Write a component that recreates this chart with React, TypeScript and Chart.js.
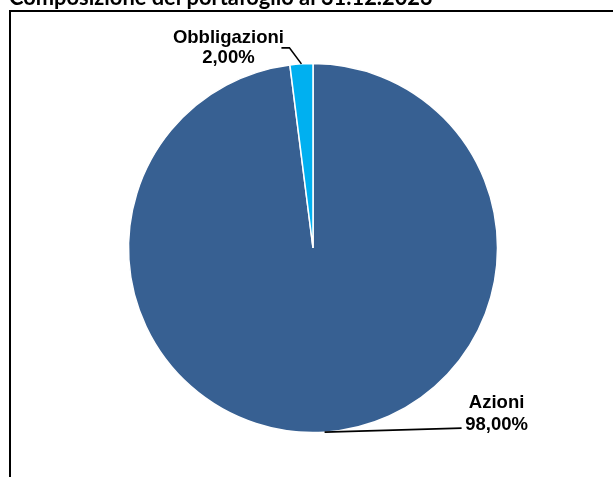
import React, { useEffect, useRef } from "react";
import { Chart, registerables } from "chart.js";

Chart.register(...registerables);

const categories = ["Azioni", "Obbligazioni"];
const values = [98, 2];
const valueLabels = ["98,00%", "2,00%"];
const sliceColors = ["#376092", "#00B0F0"];
const titleText = "Composizione del portafoglio al 31.12.2023";

// label layout relative to each slice's outer mid-point (style, not data)
const labelLayout = [
  { line: [[137, -4]], textDx: 172, baseDy: [-24, -2] },
  { line: [[-12, -16], [-20, -16]], textDx: -73, baseDy: [-21, -1] },
];

const framePlugin = {
  id: "frameTitle",
  beforeDraw(chart: any) {
    const ctx = chart.ctx;
    ctx.save();
    ctx.fillStyle = "#ffffff";
    ctx.fillRect(0, 0, chart.width, chart.height);
    ctx.strokeStyle = "#000000";
    ctx.lineWidth = 2;
    ctx.strokeRect(10, 11, chart.width + 20, chart.height + 20);
    // title (partially cut at top)
    const base = 20;
    ctx.font = `bold ${base}px Lato`;
    const w = ctx.measureText(titleText).width;
    const size = (base * 424) / w;
    ctx.font = `bold ${size}px Lato`;
    ctx.fillStyle = "#000000";
    ctx.textAlign = "left";
    ctx.textBaseline = "alphabetic";
    ctx.fillText(titleText, 9, 5);
    ctx.restore();
  },
};

const labelPlugin = {
  id: "pieLabels",
  afterDatasetsDraw(chart: any) {
    const ctx = chart.ctx;
    const meta = chart.getDatasetMeta(0);
    ctx.save();
    meta.data.forEach((arc: any, i: number) => {
      const p = arc.getProps(["x", "y", "startAngle", "endAngle", "outerRadius"], true);
      const mid = (p.startAngle + p.endAngle) / 2;
      const ax = p.x + Math.cos(mid) * p.outerRadius;
      const ay = p.y + Math.sin(mid) * p.outerRadius;
      const lay = labelLayout[i];
      ctx.strokeStyle = "#000000";
      ctx.lineWidth = 1.6;
      ctx.beginPath();
      ctx.moveTo(ax, ay);
      lay.line.forEach(([dx, dy]) => ctx.lineTo(ax + dx, ay + dy));
      ctx.stroke();
      ctx.fillStyle = "#000000";
      ctx.font = "bold 18.5px 'Liberation Sans', Arial, sans-serif";
      ctx.textAlign = "center";
      ctx.textBaseline = "alphabetic";
      const tx = ax + lay.textDx;
      ctx.fillText(categories[i], tx, ay + lay.baseDy[0]);
      ctx.fillText(valueLabels[i], tx, ay + lay.baseDy[1]);
    });
    ctx.restore();
  },
};

export default function App() {
  const ref = useRef<HTMLCanvasElement | null>(null);
  useEffect(() => {
    if (!ref.current) return;
    const chart = new Chart(ref.current, {
      type: "pie",
      data: {
        labels: categories,
        datasets: [
          {
            data: values,
            backgroundColor: sliceColors,
            borderColor: "#ffffff",
            borderWidth: 1.5,
          },
        ],
      },
      options: {
        responsive: false,
        animation: false,
        radius: 184.5,
        layout: { padding: { left: 128, right: 115, top: 63.5, bottom: 44.5 } },
        plugins: {
          legend: { display: false },
          tooltip: { enabled: false },
          title: { display: false },
        },
      } as any,
      plugins: [framePlugin, labelPlugin],
    });
    return () => chart.destroy();
  }, []);
  return (
    <canvas
      ref={ref}
      width={613}
      height={477}
      style={{ position: "absolute", left: 0, top: 0, width: 613, height: 477 }}
    />
  );
}
